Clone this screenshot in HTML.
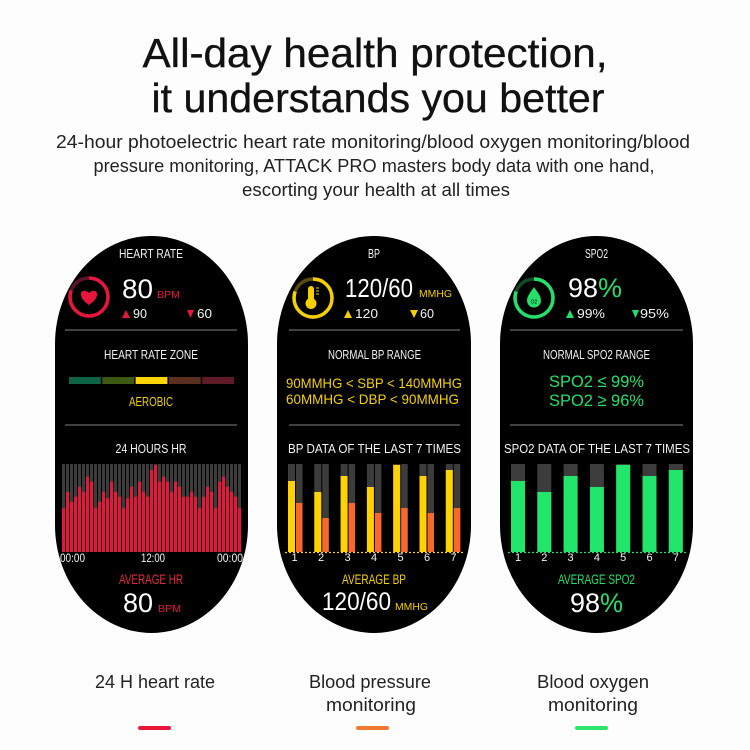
<!DOCTYPE html>
<html><head><meta charset="utf-8"><style>
html,body{margin:0;padding:0;background:#fdfdfd;}
svg{display:block;}
.s{font-family:"Liberation Sans",sans-serif;}
</style></head><body>
<svg width="750" height="750" viewBox="0 0 750 750" xmlns="http://www.w3.org/2000/svg" class="s">
<defs>
<pattern id="gp" x="62" y="0" width="4" height="100" patternUnits="userSpaceOnUse"><rect x="0" y="0" width="3" height="100" fill="#3c3c3c"/></pattern>
</defs>
<rect width="750" height="750" fill="#fdfdfd"/>
<!-- Title -->
<g font-family="Liberation Sans, sans-serif" fill="#111" stroke="#111" stroke-width="0.35" text-anchor="middle">
<text x="375" y="67" font-size="41" textLength="465" lengthAdjust="spacingAndGlyphs">All-day health protection,</text>
<text x="378" y="112" font-size="41" textLength="453" lengthAdjust="spacingAndGlyphs">it understands you better</text>
</g>
<g font-family="Liberation Sans, sans-serif" fill="#222" font-size="18.5" text-anchor="middle">
<text x="373" y="148" textLength="634" lengthAdjust="spacingAndGlyphs">24-hour photoelectric heart rate monitoring/blood oxygen monitoring/blood</text>
<text x="374" y="172" textLength="561" lengthAdjust="spacingAndGlyphs">pressure monitoring, ATTACK PRO masters body data with one hand,</text>
<text x="376" y="196" textLength="268" lengthAdjust="spacingAndGlyphs">escorting your health at all times</text>
</g>

<!-- Pills -->
<rect x="55" y="236" width="193" height="397" rx="96.5" ry="108" fill="#000"/>
<rect x="277" y="236" width="194" height="397" rx="97" ry="108" fill="#000"/>
<rect x="500" y="236" width="193" height="397" rx="96.5" ry="108" fill="#000"/>

<!-- ========== Pill 1 ========== -->
<g fill="#f2f2f2" font-size="12.5" text-anchor="middle">
<text x="151" y="258" textLength="64" lengthAdjust="spacingAndGlyphs">HEART RATE</text>
<text x="151" y="359" textLength="94" lengthAdjust="spacingAndGlyphs">HEART RATE ZONE</text>
<text x="151" y="453" textLength="71" lengthAdjust="spacingAndGlyphs">24 HOURS HR</text>
</g>
<circle cx="89" cy="297" r="19" fill="none" stroke="#5a1626" stroke-width="3.5"/>
<circle cx="89" cy="297" r="19" fill="none" stroke="#e8163c" stroke-width="3.5" stroke-dasharray="96 200" transform="rotate(-90 89 297)"/>
<path d="M89,305 C82,300 80.5,296 81,293.5 C81.5,290.5 85.5,289.5 89,293 C92.5,289.5 96.5,290.5 97,293.5 C97.5,296 96,300 89,305 Z" fill="#e8163c"/>
<text x="122" y="298" font-size="27" fill="#fff" textLength="31" lengthAdjust="spacingAndGlyphs">80</text>
<text x="157" y="298" font-size="10.5" fill="#e8163c" textLength="23" lengthAdjust="spacingAndGlyphs">BPM</text>
<polygon points="122,318 130,318 126,310" fill="#e8163c"/>
<text x="133" y="318" font-size="13" fill="#f2f2f2" textLength="14" lengthAdjust="spacingAndGlyphs">90</text>
<polygon points="187,310 194,310 190.5,318" fill="#e8163c"/>
<text x="197" y="318" font-size="13" fill="#f2f2f2" textLength="15" lengthAdjust="spacingAndGlyphs">60</text>
<line x1="65" y1="330" x2="237" y2="330" stroke="#555" stroke-width="1.5"/>
<rect x="69" y="377" width="31.8" height="7" fill="#0d6446"/>
<rect x="102.3" y="377" width="31.8" height="7" fill="#3d5a12"/>
<rect x="135.6" y="377" width="31.8" height="7" fill="#ffd500"/>
<rect x="168.9" y="377" width="31.8" height="7" fill="#5b3020"/>
<rect x="202.2" y="377" width="31.8" height="7" fill="#5e1a26"/>
<text x="151" y="406" font-size="12.5" fill="#f0d000" text-anchor="middle" textLength="44" lengthAdjust="spacingAndGlyphs">AEROBIC</text>
<line x1="65" y1="425" x2="237" y2="425" stroke="#555" stroke-width="1.5"/>
<rect x="62" y="464" width="180" height="88" fill="url(#gp)"/>
<g fill="#e4173e">
<rect x="62" y="508.3" width="3" height="43.7"/>
<rect x="66" y="491.7" width="3" height="60.3"/>
<rect x="70" y="501.7" width="3" height="50.3"/>
<rect x="74" y="496.7" width="3" height="55.3"/>
<rect x="78" y="486.7" width="3" height="65.3"/>
<rect x="82" y="491.7" width="3" height="60.3"/>
<rect x="86" y="476.7" width="3" height="75.3"/>
<rect x="90" y="481.7" width="3" height="70.3"/>
<rect x="94" y="508.3" width="3" height="43.7"/>
<rect x="98" y="501.7" width="3" height="50.3"/>
<rect x="102" y="491.7" width="3" height="60.3"/>
<rect x="106" y="498.3" width="3" height="53.7"/>
<rect x="110" y="481.7" width="3" height="70.3"/>
<rect x="114" y="491.7" width="3" height="60.3"/>
<rect x="118" y="496.7" width="3" height="55.3"/>
<rect x="122" y="508.3" width="3" height="43.7"/>
<rect x="126" y="498.3" width="3" height="53.7"/>
<rect x="130" y="486.7" width="3" height="65.3"/>
<rect x="134" y="496.7" width="3" height="55.3"/>
<rect x="138" y="481.7" width="3" height="70.3"/>
<rect x="142" y="491.7" width="3" height="60.3"/>
<rect x="146" y="496.7" width="3" height="55.3"/>
<rect x="150" y="470" width="3" height="82"/>
<rect x="154" y="465" width="3" height="87"/>
<rect x="158" y="481.7" width="3" height="70.3"/>
<rect x="162" y="476.7" width="3" height="75.3"/>
<rect x="166" y="481.7" width="3" height="70.3"/>
<rect x="170" y="491.7" width="3" height="60.3"/>
<rect x="174" y="481.7" width="3" height="70.3"/>
<rect x="178" y="486.7" width="3" height="65.3"/>
<rect x="182" y="496.7" width="3" height="55.3"/>
<rect x="186" y="496.7" width="3" height="55.3"/>
<rect x="190" y="491.7" width="3" height="60.3"/>
<rect x="194" y="496.7" width="3" height="55.3"/>
<rect x="198" y="508.3" width="3" height="43.7"/>
<rect x="202" y="496.7" width="3" height="55.3"/>
<rect x="206" y="486.7" width="3" height="65.3"/>
<rect x="210" y="491.7" width="3" height="60.3"/>
<rect x="214" y="508.3" width="3" height="43.7"/>
<rect x="218" y="481.7" width="3" height="70.3"/>
<rect x="222" y="476.7" width="3" height="75.3"/>
<rect x="226" y="486.7" width="3" height="65.3"/>
<rect x="230" y="491.7" width="3" height="60.3"/>
<rect x="234" y="496.7" width="3" height="55.3"/>
<rect x="238" y="508.3" width="3" height="43.7"/>
</g>
<g fill="#f2f2f2" font-size="11.5">
<text x="60" y="562" textLength="25" lengthAdjust="spacingAndGlyphs">00:00</text>
<text x="153" y="562" text-anchor="middle" textLength="24" lengthAdjust="spacingAndGlyphs">12:00</text>
<text x="243" y="562" text-anchor="end" textLength="26" lengthAdjust="spacingAndGlyphs">00:00</text>
</g>
<text x="151" y="584" font-size="13.5" fill="#e8283c" text-anchor="middle" textLength="64" lengthAdjust="spacingAndGlyphs">AVERAGE HR</text>
<text x="123" y="612" font-size="27" fill="#fff" textLength="30" lengthAdjust="spacingAndGlyphs">80</text>
<text x="158" y="612" font-size="10.5" fill="#e8163c" textLength="23" lengthAdjust="spacingAndGlyphs">BPM</text>

<!-- ========== Pill 2 ========== -->
<g fill="#f2f2f2" font-size="12.5" text-anchor="middle">
<text x="374" y="258" textLength="12" lengthAdjust="spacingAndGlyphs">BP</text>
<text x="374.5" y="359" textLength="93" lengthAdjust="spacingAndGlyphs">NORMAL BP RANGE</text>
<text x="374.5" y="453" textLength="173" lengthAdjust="spacingAndGlyphs">BP DATA OF THE LAST 7 TIMES</text>
</g>
<circle cx="313" cy="298" r="19" fill="none" stroke="#5a4a0c" stroke-width="3.5"/>
<circle cx="313" cy="298" r="19" fill="none" stroke="#f5d000" stroke-width="3.5" stroke-dasharray="96 200" transform="rotate(-90 313 298)"/>
<rect x="308" y="286" width="6" height="15" rx="3" fill="#f5d000"/>
<circle cx="311" cy="303.5" r="5.5" fill="#f5d000"/>
<g stroke="#f5d000" stroke-width="1"><line x1="316" y1="288" x2="319" y2="288"/><line x1="316" y1="291" x2="319" y2="291"/><line x1="316" y1="294" x2="319" y2="294"/></g>
<text x="345" y="297" font-size="26" fill="#fff" textLength="68" lengthAdjust="spacingAndGlyphs">120/60</text>
<text x="419" y="297" font-size="10.5" fill="#f5d000" textLength="33" lengthAdjust="spacingAndGlyphs">MMHG</text>
<polygon points="344,318 352,318 348,310" fill="#f5d000"/>
<text x="355" y="318" font-size="13" fill="#f2f2f2" textLength="23" lengthAdjust="spacingAndGlyphs">120</text>
<polygon points="410,310 418,310 414,318" fill="#f5d000"/>
<text x="420" y="318" font-size="13" fill="#f2f2f2" textLength="14" lengthAdjust="spacingAndGlyphs">60</text>
<line x1="289" y1="330" x2="460" y2="330" stroke="#555" stroke-width="1.5"/>
<g fill="#f5d000" font-size="14" text-anchor="middle">
<text x="374" y="388" textLength="176" lengthAdjust="spacingAndGlyphs">90MMHG &lt; SBP &lt; 140MMHG</text>
<text x="372.5" y="404" textLength="173" lengthAdjust="spacingAndGlyphs">60MMHG &lt; DBP &lt; 90MMHG</text>
</g>
<line x1="289" y1="425" x2="460" y2="425" stroke="#555" stroke-width="1.5"/>
<line x1="285" y1="552.5" x2="463" y2="552.5" stroke="#f5d000" stroke-width="1.2" stroke-dasharray="2 2"/>
<g fill="#3c3c3c">
<rect x="288" y="464" width="7" height="88"/><rect x="296" y="464" width="6.5" height="88"/>
<rect x="314.3" y="464" width="7" height="88"/><rect x="322.3" y="464" width="6.5" height="88"/>
<rect x="340.6" y="464" width="7" height="88"/><rect x="348.6" y="464" width="6.5" height="88"/>
<rect x="366.9" y="464" width="7" height="88"/><rect x="374.9" y="464" width="6.5" height="88"/>
<rect x="393.2" y="464" width="7" height="88"/><rect x="401.2" y="464" width="6.5" height="88"/>
<rect x="419.5" y="464" width="7" height="88"/><rect x="427.5" y="464" width="6.5" height="88"/>
<rect x="445.8" y="464" width="7" height="88"/><rect x="453.8" y="464" width="6.5" height="88"/>
</g>
<g fill="#ffd200">
<rect x="288" y="481" width="7" height="71"/>
<rect x="314.3" y="492" width="7" height="60"/>
<rect x="340.6" y="476" width="7" height="76"/>
<rect x="366.9" y="487" width="7" height="65"/>
<rect x="393.2" y="465" width="7" height="87"/>
<rect x="419.5" y="476" width="7" height="76"/>
<rect x="445.8" y="470" width="7" height="82"/>
</g>
<g fill="#f7682a">
<rect x="296" y="503" width="6.5" height="49"/>
<rect x="322.3" y="518" width="6.5" height="34"/>
<rect x="348.6" y="503" width="6.5" height="49"/>
<rect x="374.9" y="513" width="6.5" height="39"/>
<rect x="401.2" y="508" width="6.5" height="44"/>
<rect x="427.5" y="513" width="6.5" height="39"/>
<rect x="453.8" y="508" width="6.5" height="44"/>
</g>
<g fill="#f2f2f2" font-size="11" text-anchor="middle">
<text x="294.5" y="561">1</text><text x="321" y="561">2</text><text x="347.5" y="561">3</text><text x="374" y="561">4</text><text x="400.5" y="561">5</text><text x="427" y="561">6</text><text x="453.5" y="561">7</text>
</g>
<text x="374" y="584" font-size="13.5" fill="#f5d000" text-anchor="middle" textLength="64" lengthAdjust="spacingAndGlyphs">AVERAGE BP</text>
<text x="322" y="610" font-size="25" fill="#fff" textLength="69" lengthAdjust="spacingAndGlyphs">120/60</text>
<text x="395" y="610" font-size="10.5" fill="#f5d000" textLength="33" lengthAdjust="spacingAndGlyphs">MMHG</text>

<!-- ========== Pill 3 ========== -->
<g fill="#f2f2f2" font-size="12.5" text-anchor="middle">
<text x="596.5" y="258" textLength="23" lengthAdjust="spacingAndGlyphs">SPO2</text>
<text x="596.5" y="359" textLength="107" lengthAdjust="spacingAndGlyphs">NORMAL SPO2 RANGE</text>
<text x="597" y="453" textLength="186" lengthAdjust="spacingAndGlyphs">SPO2 DATA OF THE LAST 7 TIMES</text>
</g>
<circle cx="534" cy="298" r="19" fill="none" stroke="#0f4a26" stroke-width="3.5"/>
<circle cx="534" cy="298" r="19" fill="none" stroke="#22e06a" stroke-width="3.5" stroke-dasharray="96 200" transform="rotate(-90 534 298)"/>
<path d="M534,287 C531,291.5 527,296 527,300.5 A7,7 0 0 0 541,300.5 C541,296 537,291.5 534,287 Z" fill="#22e06a"/>
<text x="534" y="303.5" font-size="5" fill="#000" text-anchor="middle">O2</text>
<text x="568" y="297" font-size="27" fill="#fff" textLength="30" lengthAdjust="spacingAndGlyphs">98</text>
<text x="598" y="297" font-size="27" fill="#22e06a" textLength="24" lengthAdjust="spacingAndGlyphs">%</text>
<polygon points="566,318 574,318 570,310" fill="#22e06a"/>
<text x="577" y="318" font-size="13" fill="#f2f2f2" textLength="28" lengthAdjust="spacingAndGlyphs">99%</text>
<polygon points="632,310 639,310 635.5,318" fill="#22e06a"/>
<text x="640" y="318" font-size="13" fill="#f2f2f2" textLength="29" lengthAdjust="spacingAndGlyphs">95%</text>
<line x1="510" y1="330" x2="683" y2="330" stroke="#555" stroke-width="1.5"/>
<g fill="#22e06a" font-size="17" text-anchor="middle">
<text x="596.5" y="387" textLength="95" lengthAdjust="spacingAndGlyphs">SPO2 ≤ 99%</text>
<text x="596.5" y="406" textLength="95" lengthAdjust="spacingAndGlyphs">SPO2 ≥ 96%</text>
</g>
<line x1="510" y1="425" x2="683" y2="425" stroke="#555" stroke-width="1.5"/>
<line x1="508" y1="552.5" x2="686" y2="552.5" stroke="#22e06a" stroke-width="1.2" stroke-dasharray="2 2"/>
<g fill="#3c3c3c">
<rect x="511" y="464" width="14" height="88"/>
<rect x="537.3" y="464" width="14" height="88"/>
<rect x="563.6" y="464" width="14" height="88"/>
<rect x="589.9" y="464" width="14" height="88"/>
<rect x="616.2" y="464" width="14" height="88"/>
<rect x="642.5" y="464" width="14" height="88"/>
<rect x="668.8" y="464" width="14" height="88"/>
</g>
<g fill="#22e66c">
<rect x="511" y="481" width="14" height="71"/>
<rect x="537.3" y="492" width="14" height="60"/>
<rect x="563.6" y="476" width="14" height="76"/>
<rect x="589.9" y="487" width="14" height="65"/>
<rect x="616.2" y="465" width="14" height="87"/>
<rect x="642.5" y="476" width="14" height="76"/>
<rect x="668.8" y="470" width="14" height="82"/>
</g>
<g fill="#f2f2f2" font-size="11" text-anchor="middle">
<text x="518" y="561">1</text><text x="544.3" y="561">2</text><text x="570.6" y="561">3</text><text x="596.9" y="561">4</text><text x="623.2" y="561">5</text><text x="649.5" y="561">6</text><text x="675.8" y="561">7</text>
</g>
<text x="596.5" y="584" font-size="13.5" fill="#22e06a" text-anchor="middle" textLength="77" lengthAdjust="spacingAndGlyphs">AVERAGE SPO2</text>
<text x="570" y="612" font-size="27" fill="#fff" textLength="30" lengthAdjust="spacingAndGlyphs">98</text>
<text x="600" y="612" font-size="27" fill="#22e06a" textLength="23" lengthAdjust="spacingAndGlyphs">%</text>

<!-- Bottom labels -->
<g font-family="Liberation Sans, sans-serif" fill="#222" font-size="18" text-anchor="middle">
<text x="155" y="688" textLength="120" lengthAdjust="spacingAndGlyphs">24 H heart rate</text>
<text x="370" y="688" textLength="122" lengthAdjust="spacingAndGlyphs">Blood pressure</text>
<text x="371" y="711" textLength="90" lengthAdjust="spacingAndGlyphs">monitoring</text>
<text x="593" y="688" textLength="112" lengthAdjust="spacingAndGlyphs">Blood oxygen</text>
<text x="593" y="711" textLength="90" lengthAdjust="spacingAndGlyphs">monitoring</text>
</g>
<rect x="138" y="726" width="33" height="4" rx="2" fill="#e8173c"/>
<rect x="356" y="726" width="33" height="4" rx="2" fill="#f07a32"/>
<rect x="575" y="726" width="33" height="4" rx="2" fill="#2ee56a"/>
</svg>
</body></html>
